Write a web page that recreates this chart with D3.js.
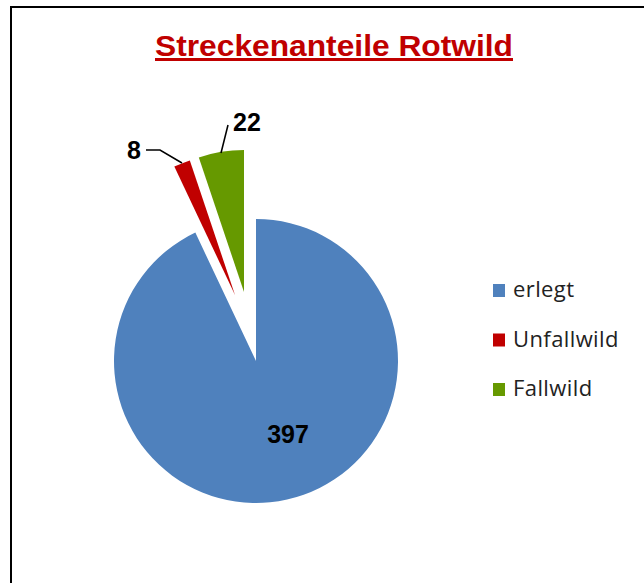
<!DOCTYPE html>
<html>
<head>
<meta charset="utf-8">
<script src="https://cdn.jsdelivr.net/npm/d3@7"></script>
<style>
  body { margin: 0; background: #fff; }
  svg { display: block; }
</style>
</head>
<body>
<svg width="644" height="583"></svg>
<script>
var categories = ["erlegt", "Unfallwild", "Fallwild"];
var values = [397, 8, 22];
var colors = ["#4F81BD", "#C00000", "#669900"];

var svg = d3.select("svg"),
    cx = 256, cy = 361, radius = 142;

// chart frame
svg.append("rect")
    .attr("x", 11).attr("y", 7)
    .attr("width", 680).attr("height", 620)
    .attr("fill", "#fff")
    .attr("stroke", "#000")
    .attr("stroke-width", 2);

svg.append("text")
    .attr("x", 334).attr("y", 56)
    .attr("text-anchor", "middle")
    .attr("textLength", 358)
    .attr("lengthAdjust", "spacingAndGlyphs")
    .style("font-family", "'Liberation Sans', Arial, sans-serif")
    .style("font-weight", "bold")
    .style("font-size", "30px")
    .style("text-decoration", "underline")
    .attr("fill", "#C00000")
    .text("Streckenanteile Rotwild");

var data = categories.map(function(c, i) { return {name: c, value: values[i], color: colors[i]}; });

var pie = d3.pie().sort(null).value(function(d) { return d.value; });
var arc = d3.arc().innerRadius(0).outerRadius(radius);
var arcs = pie(data);

// how far each slice is pulled out of the pie
var explode = [[0, 0], [-21, -66], [-12, -69]];

var g = svg.append("g").attr("transform", "translate(" + cx + "," + cy + ")");

g.selectAll("path")
  .data(arcs)
  .enter().append("path")
    .attr("d", arc)
    .attr("fill", function(d) { return d.data.color; })
    .attr("transform", function(d, i) {
      return "translate(" + explode[i][0] + "," + explode[i][1] + ")";
    });

var labelFont = "'Liberation Sans', Arial, sans-serif";

// big slice label
g.append("text")
    .attr("x", 32).attr("y", 82)
    .attr("text-anchor", "middle")
    .style("font-family", labelFont)
    .style("font-weight", "bold")
    .style("font-size", "25px")
    .attr("fill", "#000")
    .text(values[0]);

// small slice labels with leader lines (offsets relative to pie centre)
var leaders = [
  null,
  {pts: [[-110, -211], [-96, -211], [-74, -198]], tx: -122, ty: -202},
  {pts: [[-28, -236], [-35, -208]], tx: -9, ty: -230}
];

arcs.forEach(function(d, i) {
  var l = leaders[i];
  if (!l) return;
  g.append("path")
      .attr("d", d3.line()(l.pts))
      .attr("fill", "none")
      .attr("stroke", "#000")
      .attr("stroke-width", 1.5);
  g.append("text")
      .attr("x", l.tx).attr("y", l.ty)
      .attr("text-anchor", "middle")
      .style("font-family", labelFont)
      .style("font-weight", "bold")
      .style("font-size", "25px")
      .attr("fill", "#000")
      .text(d.data.value);
});

// legend
var legend = svg.append("g").attr("transform", "translate(493,284)");
var item = legend.selectAll("g")
  .data(data)
  .enter().append("g")
    .attr("transform", function(d, i) { return "translate(0," + (i * 49.5) + ")"; });

item.append("rect")
    .attr("width", 12).attr("height", 13)
    .attr("fill", function(d) { return d.color; });

item.append("text")
    .attr("x", 20).attr("y", 13)
    .style("font-family", "'Open Sans', Lato, sans-serif")
    .style("font-size", "22px")
    .style("letter-spacing", "0.4px")
    .attr("fill", "#222")
    .text(function(d) { return d.name; });
</script>
</body>
</html>
